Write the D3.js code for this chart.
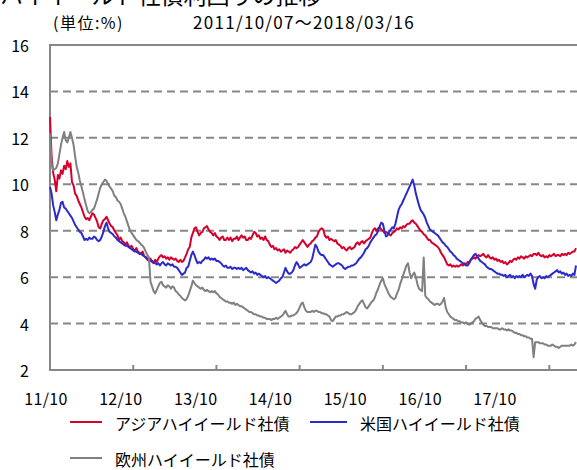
<!DOCTYPE html>
<html>
<head>
<meta charset="utf-8">
<script src="https://cdn.jsdelivr.net/npm/d3@7"></script>
<style>
  body { margin: 0; background: #fff; }
  svg { display: block; }
  text { font-family: "Noto Sans CJK JP", "Noto Sans", sans-serif; fill: #000; }
</style>
</head>
<body>
<svg id="chart" width="577" height="470"></svg>
<script>
// Texts
const titleText = "ハイイールド社債利回りの推移";
const unitText = "(単位:%)";
const periodText = "2011/10/07〜2018/03/16";

// Weekly observations starting from this date
const startDate = "2011-10-07";

const seriesNames = ["アジアハイイールド社債", "米国ハイイールド社債", "欧州ハイイールド社債"];
const seriesColors = ["#d5002b", "#2b2bcc", "#808080"];

// Yields (%), one value per week
const asiaHY = [
  12.9,11.2,10.5,10.2,9.7,10.4,10.25,10.6,10.45,10.8,10.65,11.0,10.75,10.9,10.1,9.95,9.6,9.5,9.3,9.15,
  9.0,8.8,8.6,8.5,8.55,8.45,8.6,8.75,8.7,8.55,8.4,8.15,8.1,8.3,8.45,8.5,8.6,8.45,8.3,8.2,
  8.15,8.0,7.9,7.8,7.6,7.7,7.55,7.5,7.4,7.5,7.35,7.3,7.35,7.2,7.15,7.25,7.1,7.05,7.0,7.1,
  6.9,6.85,6.75,6.7,6.8,6.65,6.6,6.75,6.65,6.8,6.9,6.95,6.85,6.9,6.8,6.85,6.75,6.85,6.8,6.75,
  6.8,6.7,6.65,6.75,6.65,6.7,6.85,7.0,7.2,7.3,7.7,7.9,8.1,8.15,7.95,7.8,7.9,7.95,8.1,8.15,
  8.2,8.05,7.95,7.9,7.8,7.9,7.75,7.7,7.6,7.7,7.75,7.6,7.6,7.7,7.6,7.7,7.55,7.65,7.65,7.75,
  7.6,7.7,7.8,7.7,7.75,7.6,7.6,7.7,7.65,7.8,7.95,7.9,7.75,7.8,7.65,7.7,7.6,7.75,7.6,7.55,
  7.4,7.3,7.35,7.2,7.25,7.15,7.2,7.1,7.15,7.2,7.05,7.15,7.1,7.05,7.15,7.2,7.3,7.25,7.3,7.4,
  7.5,7.6,7.5,7.4,7.3,7.4,7.45,7.55,7.6,7.7,7.75,7.95,8.05,8.1,8.05,7.8,7.7,7.75,7.6,7.65,
  7.6,7.55,7.6,7.45,7.4,7.35,7.25,7.3,7.2,7.15,7.25,7.3,7.2,7.25,7.3,7.45,7.5,7.4,7.5,7.55,
  7.45,7.55,7.6,7.65,7.7,7.9,8.05,8.1,8.0,8.1,8.15,8.05,8.0,7.9,7.95,7.9,7.85,7.8,7.9,7.95,
  8.0,8.1,8.05,8.15,8.1,8.2,8.15,8.25,8.3,8.3,8.4,8.45,8.35,8.3,8.2,8.1,8.0,7.95,7.85,7.8,
  7.7,7.6,7.6,7.5,7.45,7.4,7.35,7.3,7.2,7.05,6.95,6.85,6.7,6.55,6.5,6.55,6.45,6.5,6.45,6.5,
  6.45,6.5,6.55,6.5,6.6,6.55,6.65,6.65,6.75,6.8,6.85,6.8,6.9,6.95,6.9,6.95,7.0,6.9,6.85,6.95,
  6.85,6.8,6.85,6.75,6.8,6.7,6.75,6.65,6.7,6.6,6.65,6.55,6.6,6.7,6.65,6.75,6.8,6.75,6.85,6.8,
  6.9,6.85,6.8,6.9,6.85,6.9,6.95,6.9,7.0,7.0,6.95,7.05,6.95,6.9,6.95,6.85,6.9,6.85,6.95,6.9,
  6.95,7.0,6.9,6.95,6.95,6.9,7.0,6.95,7.0,6.95,7.05,7.0,7.05,7.1,7.1,7.25
];
const usHY = [
  9.88,9.6,9.1,8.8,8.45,8.7,8.9,9.2,9.25,9.0,8.95,8.85,8.75,8.65,8.55,8.4,8.25,8.15,8.05,7.95,
  7.9,7.75,7.6,7.65,7.6,7.7,7.65,7.65,7.75,7.7,7.6,7.55,7.6,7.75,7.95,8.2,8.35,8.1,7.95,7.9,
  7.85,7.75,7.7,7.6,7.55,7.5,7.45,7.4,7.35,7.35,7.3,7.25,7.2,7.15,7.1,7.1,7.05,7.0,7.0,6.95,
  6.9,6.85,6.8,6.75,6.7,6.7,6.65,6.6,6.55,6.6,6.5,6.6,6.65,6.55,6.5,6.6,6.55,6.5,6.55,6.45,
  6.45,6.4,6.3,6.2,6.1,6.15,6.2,6.4,6.45,6.7,6.95,7.1,6.95,6.75,6.6,6.65,6.6,6.7,6.75,6.85,
  6.8,6.85,6.75,6.8,6.75,6.8,6.7,6.7,6.65,6.6,6.5,6.45,6.5,6.4,6.4,6.45,6.35,6.4,6.4,6.35,
  6.4,6.35,6.4,6.3,6.35,6.4,6.3,6.25,6.2,6.25,6.15,6.2,6.1,6.15,6.1,6.05,6.0,6.05,5.95,6.0,
  5.95,5.9,5.85,5.8,5.75,5.8,5.85,5.95,6.0,6.2,6.4,6.25,6.15,6.15,6.2,6.3,6.5,6.65,6.55,6.4,
  6.45,6.5,6.55,6.5,6.55,6.6,6.65,6.8,7.1,7.4,7.3,7.1,7.0,6.95,6.95,6.85,6.75,6.65,6.55,6.5,
  6.45,6.5,6.55,6.6,6.6,6.55,6.5,6.4,6.35,6.4,6.45,6.45,6.5,6.5,6.55,6.6,6.7,6.8,6.85,6.95,
  7.05,7.2,7.25,7.35,7.5,7.6,7.7,7.8,7.85,8.0,8.2,8.35,8.3,8.0,7.75,7.8,7.95,8.05,8.15,8.1,
  8.3,8.6,8.9,9.05,9.15,9.3,9.45,9.6,9.75,9.9,10.05,10.2,9.95,9.6,9.35,9.1,8.9,8.8,8.7,8.55,
  8.35,8.2,8.05,8.0,7.95,7.9,7.85,7.8,7.7,7.6,7.5,7.45,7.35,7.3,7.2,7.1,7.05,6.95,6.9,6.8,
  6.75,6.7,6.65,6.6,6.55,6.5,6.5,6.6,6.75,6.85,6.95,7.0,6.9,6.8,6.7,6.65,6.6,6.55,6.45,6.4,
  6.35,6.35,6.3,6.25,6.2,6.15,6.15,6.1,6.1,6.05,6.1,6.0,6.05,6.1,6.0,6.05,5.95,6.05,6.0,6.05,
  6.0,6.1,6.0,6.05,6.1,6.05,6.15,6.05,5.7,5.5,5.9,6.0,6.05,5.95,6.0,5.95,6.05,6.0,6.05,6.1,
  6.15,6.2,6.25,6.3,6.2,6.25,6.15,6.2,6.1,6.15,6.05,6.1,6.05,6.15,6.1,6.5
];
const europeHY = [
  12.2,10.9,10.6,10.65,10.7,10.9,11.3,11.7,12.0,12.25,11.9,11.8,12.0,12.25,12.0,11.7,11.2,10.75,10.5,10.15,
  9.9,9.65,9.35,9.1,8.85,8.75,8.8,8.9,8.95,9.15,9.35,9.6,9.85,10.0,10.1,10.2,10.15,10.0,9.9,9.8,
  9.7,9.5,9.45,9.3,9.25,9.15,8.95,8.75,8.6,8.4,8.2,8.0,7.9,7.8,7.7,7.6,7.55,7.5,7.4,7.35,
  7.25,7.1,6.95,6.85,5.8,5.6,5.4,5.3,5.45,5.6,5.75,5.8,5.65,5.6,5.55,5.65,5.6,5.5,5.6,5.55,
  5.4,5.35,5.25,5.2,5.1,5.05,5.0,5.05,5.2,5.4,5.6,5.85,5.75,5.65,5.6,5.55,5.5,5.55,5.45,5.4,
  5.45,5.4,5.35,5.4,5.35,5.4,5.3,5.25,5.15,5.1,5.05,5.0,4.95,4.95,4.9,4.9,4.85,4.9,4.8,4.85,
  4.8,4.75,4.75,4.7,4.65,4.6,4.55,4.5,4.5,4.45,4.4,4.4,4.35,4.35,4.3,4.3,4.25,4.25,4.2,4.2,
  4.2,4.15,4.2,4.2,4.25,4.2,4.25,4.3,4.35,4.45,4.55,4.4,4.3,4.3,4.35,4.35,4.4,4.45,4.55,4.7,
  4.85,4.9,4.7,4.55,4.5,4.5,4.5,4.55,4.5,4.55,4.55,4.5,4.5,4.45,4.45,4.4,4.4,4.35,4.3,4.15,
  4.1,4.2,4.3,4.3,4.35,4.35,4.4,4.4,4.45,4.5,4.45,4.4,4.4,4.45,4.5,4.6,4.75,4.85,4.95,5.0,
  4.85,4.7,4.65,4.75,4.85,4.95,5.0,5.15,5.35,5.5,5.7,5.85,5.95,5.7,5.55,5.4,5.25,5.15,5.1,5.05,
  5.1,5.3,5.45,5.7,5.9,6.1,6.3,6.5,6.6,6.2,5.95,6.1,6.2,6.0,5.7,5.5,5.45,5.4,6.85,5.2,
  5.1,5.05,4.95,4.9,4.85,4.8,4.85,4.85,4.8,4.85,4.95,5.1,4.7,4.5,4.4,4.3,4.25,4.2,4.15,4.15,
  4.1,4.1,4.05,4.05,4.0,4.05,4.0,3.95,4.0,4.05,4.1,4.2,4.25,4.3,4.15,4.05,3.95,3.9,3.9,3.85,
  3.85,3.85,3.8,3.8,3.8,3.8,3.75,3.75,3.8,3.75,3.75,3.7,3.75,3.7,3.7,3.65,3.6,3.6,3.55,3.55,
  3.5,3.5,3.45,3.45,3.4,3.4,3.35,3.35,2.55,3.2,3.2,3.2,3.15,3.15,3.15,3.1,3.1,3.05,3.05,3.05,
  3.1,3.05,3.0,3.0,2.95,3.0,3.05,3.05,3.05,3.05,3.05,3.05,3.1,3.05,3.1,3.2
];

const yTicks = [2, 4, 6, 8, 10, 12, 14, 16];
const xLabels = ["11/10", "12/10", "13/10", "14/10", "15/10", "16/10", "17/10"];
// Tick marks along the date axis, in weeks from the start
const xTickWeeks = [53, 106, 159, 212, 265, 318];

(function draw() {
  const svg = d3.select("#chart");
  const W = 577, H = 470;
  const plotL = 50, plotR = 576, plotT = 45, plotB = 370;
  const axisColor = "#878787";

  svg.append("rect").attr("width", W).attr("height", H).attr("fill", "#fff");

  const t0 = d3.timeParse("%Y-%m-%d")(startDate);
  const dates = asiaHY.map((_, i) => d3.timeWeek.offset(t0, i));

  const x = d3.scaleTime().domain([dates[0], dates[dates.length - 1]]).range([plotL, plotR]);
  const y = d3.scaleLinear().domain([2, 16]).range([plotB, plotT]);

  // Title (runs off the top edge)
  svg.append("text").attr("x", 0).attr("y", 4)
    .style("font-size", "23px").text(titleText);

  svg.append("text").attr("x", 53).attr("y", 29)
    .style("font-size", "16px").style("letter-spacing", "1.5px").text(unitText);
  svg.append("text").attr("x", 193).attr("y", 29)
    .style("font-size", "17px").style("letter-spacing", "1.3px").text(periodText);

  // Grid lines
  svg.append("g").selectAll("line").data(yTicks.filter(v => v > 2)).join("line")
    .attr("x1", plotL).attr("x2", W)
    .attr("y1", d => y(d)).attr("y2", d => y(d))
    .attr("stroke", axisColor).attr("stroke-width", 2)
    .attr("stroke-dasharray", d => d === 16 ? null : "8,5");

  // Y axis labels
  svg.append("g").selectAll("text").data(yTicks).join("text")
    .attr("x", 29).attr("y", d => y(d))
    .attr("text-anchor", "end").attr("dominant-baseline", "central")
    .style("font-size", "16px").text(d => d);

  // Axis lines
  svg.append("line").attr("x1", plotL).attr("x2", plotL).attr("y1", plotT - 1).attr("y2", plotB + 1)
    .attr("stroke", axisColor).attr("stroke-width", 2);
  svg.append("line").attr("x1", plotL).attr("x2", W).attr("y1", plotB).attr("y2", plotB)
    .attr("stroke", axisColor).attr("stroke-width", 2);

  // Tick marks on the date axis
  svg.append("g").selectAll("line").data(xTickWeeks).join("line")
    .attr("x1", d => x(d3.timeWeek.offset(t0, d))).attr("x2", d => x(d3.timeWeek.offset(t0, d)))
    .attr("y1", plotB - 5).attr("y2", plotB)
    .attr("stroke", axisColor).attr("stroke-width", 2);

  // Date labels
  const xl = d3.scalePoint().domain(xLabels).range([46, 495]);
  svg.append("g").selectAll("text").data(xLabels).join("text")
    .attr("x", d => xl(d)).attr("y", 405)
    .attr("text-anchor", "middle")
    .style("font-size", "16px").style("letter-spacing", "0.3px").text(d => d);

  // Series lines
  const line = d3.line().x((d, i) => x(dates[i])).y(d => y(d));
  const series = [asiaHY, usHY, europeHY];
  svg.append("g").selectAll("path").data(series).join("path")
    .attr("d", d => line(d))
    .attr("fill", "none")
    .attr("stroke", (d, i) => seriesColors[i])
    .attr("stroke-width", 2)
    .attr("stroke-linejoin", "round");

  // Legend
  const legendPos = [[70, 422], [310, 422], [70, 458]];
  const lg = svg.append("g").selectAll("g").data(seriesNames).join("g")
    .attr("transform", (d, i) => `translate(${legendPos[i][0]},${legendPos[i][1]})`);
  lg.append("line").attr("x1", 0).attr("x2", (d, i) => i === 1 ? 37 : 32)
    .attr("stroke", (d, i) => seriesColors[i]).attr("stroke-width", 2);
  lg.append("text").attr("x", (d, i) => i === 1 ? 50 : 45).attr("y", 1)
    .attr("dominant-baseline", "central")
    .style("font-size", "16px").text(d => d);
})();
</script>
</body>
</html>
